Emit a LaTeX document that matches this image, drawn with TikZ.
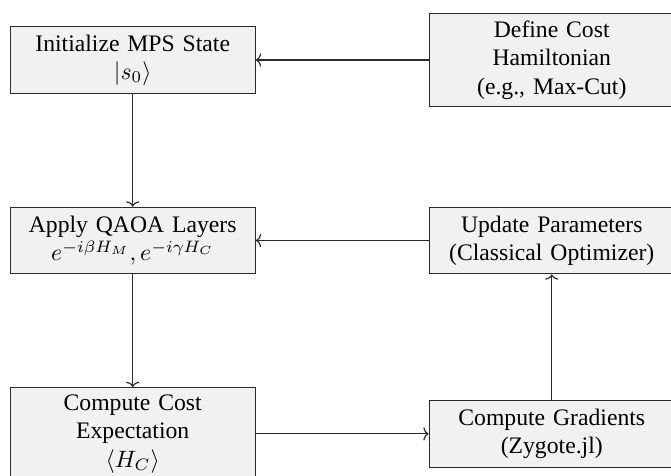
\documentclass[tikz,border=0pt]{standalone}
\usepackage{fontspec}
\setmainfont{Liberation Serif}
\usepackage{xcolor}
\usepackage{tikz}
\usetikzlibrary{arrows.meta}
\definecolor{QAFill}{HTML}{F1F1F1}
\definecolor{QALine}{HTML}{2B2B2B}
\tikzset{
  qabox/.style={draw=QALine,fill=QAFill,line width=0.5pt,align=center,text width=3.24cm,inner xsep=0.2cm,inner ysep=3pt},
  qaarrow/.style={-{To[length=2.2pt,width=5.6pt]},draw=QALine,line width=0.5pt}
}
\begin{document}
\begin{tikzpicture}[x=1cm,y=1cm]
\path[use as bounding box] (0,0) rectangle (9.96,7.06);
\node[qabox,minimum height=0.99cm] (init) at (1.97,6.17) {Initialize MPS State\\$|s_0\rangle$};
\node[qabox,minimum height=1.37cm] (hamil) at (8.19,6.17) {Define Cost\\Hamiltonian\\(e.g., Max-Cut)};
\node[qabox,minimum height=0.99cm] (layers) at (1.97,3.49) {Apply QAOA Layers\\$e^{-i\beta H_M}, e^{-i\gamma H_C}$};
\node[qabox,minimum height=0.99cm] (update) at (8.19,3.49) {Update Parameters\\(Classical Optimizer)};
\node[qabox,minimum height=1.37cm] (cost) at (1.97,0.62) {Compute Cost\\Expectation\\$\langle H_C\rangle$};
\node[qabox,minimum height=0.99cm] (grad) at (8.19,0.62) {Compute Gradients\\(Zygote.jl)};
\draw[qaarrow] (hamil) -- (init);
\draw[qaarrow] (init) -- (layers);
\draw[qaarrow] (layers) -- (cost);
\draw[qaarrow] (cost) -- (grad);
\draw[qaarrow] (grad) -- (update);
\draw[qaarrow] (update) -- (layers);
\end{tikzpicture}
\end{document}
